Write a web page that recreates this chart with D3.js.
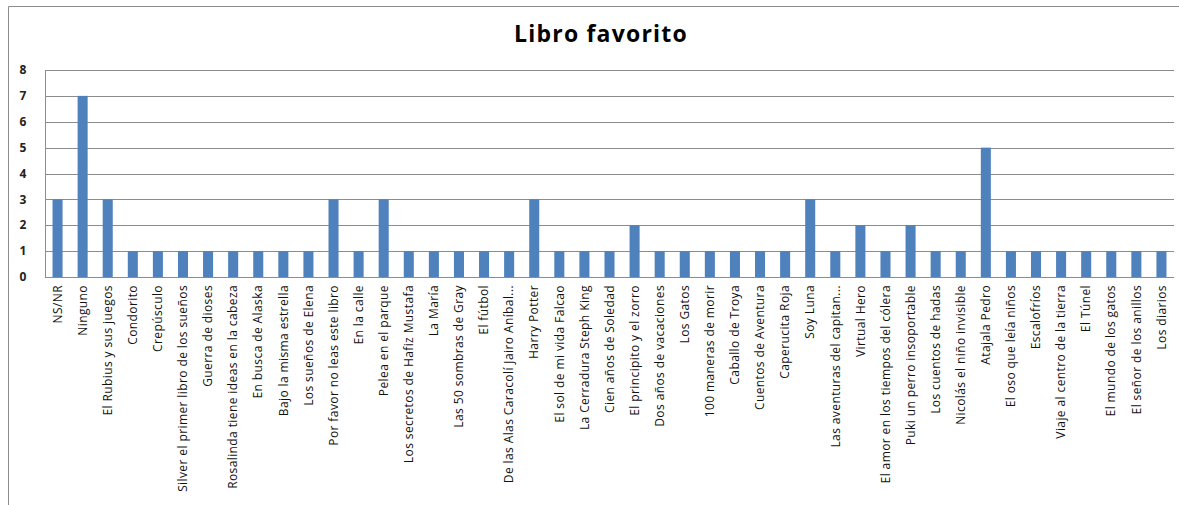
<!DOCTYPE html>
<html>
<head>
<meta charset="utf-8">
<script src="https://cdn.jsdelivr.net/npm/d3@7"></script>
<style>
  body { margin: 0; background: #fff; }
  svg { display: block; }
</style>
</head>
<body>
<div id="chart"></div>
<script>
var width = 1179;
var height = 505;

var title = "Libro favorito";

var libros = [
  "NS/NR", "Ninguno", "El Rubius y sus juegos", "Condorito", "Crepúsculo",
  "Silver el primer libro de los sueños", "Guerra de dioses",
  "Rosalinda tiene ideas en la cabeza", "En busca de Alaska",
  "Bajo la misma estrella", "Los sueños de Elena", "Por favor no leas este libro",
  "En la calle", "Pelea en el parque", "Los secretos de Hafiz Mustafa",
  "La María", "Las 50 sombras de Gray", "El fútbol",
  "De las Alas Caracolí Jairo Aníbal...", "Harry Potter",
  "El sol de mi vida Falcao", "La Cerradura Steph King", "Cien años de Soledad",
  "El principito y el zorro", "Dos años de vacaciones", "Los Gatos",
  "100 maneras de morir", "Caballo de Troya", "Cuentos de Aventura",
  "Caperucita Roja", "Soy Luna", "Las aventuras del capitan...",
  "Virtual Hero", "El amor en los tiempos del cólera",
  "Puki un perro insoportable", "Los cuentos de hadas",
  "Nicolás el niño invisible", "Atajala Pedro", "El oso que leía niños",
  "Escalofríos", "Viaje al centro de la tierra", "El Túnel",
  "El mundo de los gatos", "El señor de los anillos", "Los diarios"
];

var votos = [
  3, 7, 3, 1, 1, 1, 1, 1, 1, 1, 1, 3, 1, 3, 1, 1, 1, 1, 1, 3,
  1, 1, 1, 2, 1, 1, 1, 1, 1, 1, 3, 1, 2, 1, 2, 1, 1, 5, 1, 1,
  1, 1, 1, 1, 1
];

var yTicks = [0, 1, 2, 3, 4, 5, 6, 7, 8];

var margin = {top: 70, right: 5, bottom: 228, left: 45};

var svg = d3.select("#chart")
  .append("svg")
  .attr("width", width)
  .attr("height", height);

// outer chart frame (cut off on the right and bottom like the screenshot)
svg.append("path")
  .attr("d", "M8.5," + height + "V6.5H" + width)
  .attr("fill", "none")
  .attr("stroke", "#8c8c8c")
  .attr("stroke-width", 1);

var x = d3.scaleBand()
  .domain(libros)
  .range([margin.left, width - margin.right])
  .paddingInner(0.6)
  .paddingOuter(0.3);

var y = d3.scaleLinear()
  .domain([0, 8])
  .range([height - margin.bottom, margin.top]);

// gridlines
svg.append("g")
  .selectAll("line")
  .data(yTicks)
  .enter()
  .append("line")
  .attr("x1", margin.left)
  .attr("x2", width - margin.right)
  .attr("y1", d => Math.round(y(d)) + 0.5)
  .attr("y2", d => Math.round(y(d)) + 0.5)
  .attr("stroke", "#8c8c8c")
  .attr("stroke-width", 1);

// y axis line
svg.append("line")
  .attr("x1", margin.left + 0.5)
  .attr("x2", margin.left + 0.5)
  .attr("y1", y(8))
  .attr("y2", y(0))
  .attr("stroke", "#8c8c8c");

// y tick labels
svg.append("g")
  .selectAll("text")
  .data(yTicks)
  .enter()
  .append("text")
  .attr("x", 23)
  .attr("y", d => y(d))
  .attr("dy", "0.35em")
  .attr("text-anchor", "middle")
  .style("font-family", "'Open Sans', sans-serif")
  .style("font-size", "12px")
  .style("font-weight", "bold")
  .style("fill", "#222")
  .text(d => d);

// bars
svg.append("g")
  .selectAll("rect")
  .data(libros)
  .enter()
  .append("rect")
  .attr("x", d => x(d))
  .attr("width", x.bandwidth())
  .attr("y", (d, i) => y(votos[i]))
  .attr("height", (d, i) => y(0) - y(votos[i]))
  .attr("fill", "#4f81bd");

// category labels, rotated
svg.append("g")
  .selectAll("text")
  .data(libros)
  .enter()
  .append("text")
  .attr("transform", d => "translate(" + (x(d) + x.bandwidth() / 2) + "," + (y(0) + 8) + ") rotate(-90)")
  .attr("dy", "0.35em")
  .attr("text-anchor", "end")
  .style("font-family", "'Open Sans', sans-serif")
  .style("font-size", "12px")
  .style("letter-spacing", "0.4px")
  .style("fill", "#111")
  .text(d => d);

// title
svg.append("text")
  .attr("x", 601)
  .attr("y", 42)
  .attr("text-anchor", "middle")
  .style("font-family", "'Open Sans', sans-serif")
  .style("font-size", "23px")
  .style("font-weight", "bold")
  .style("letter-spacing", "1.2px")
  .style("fill", "#000")
  .text(title);
</script>
</body>
</html>
